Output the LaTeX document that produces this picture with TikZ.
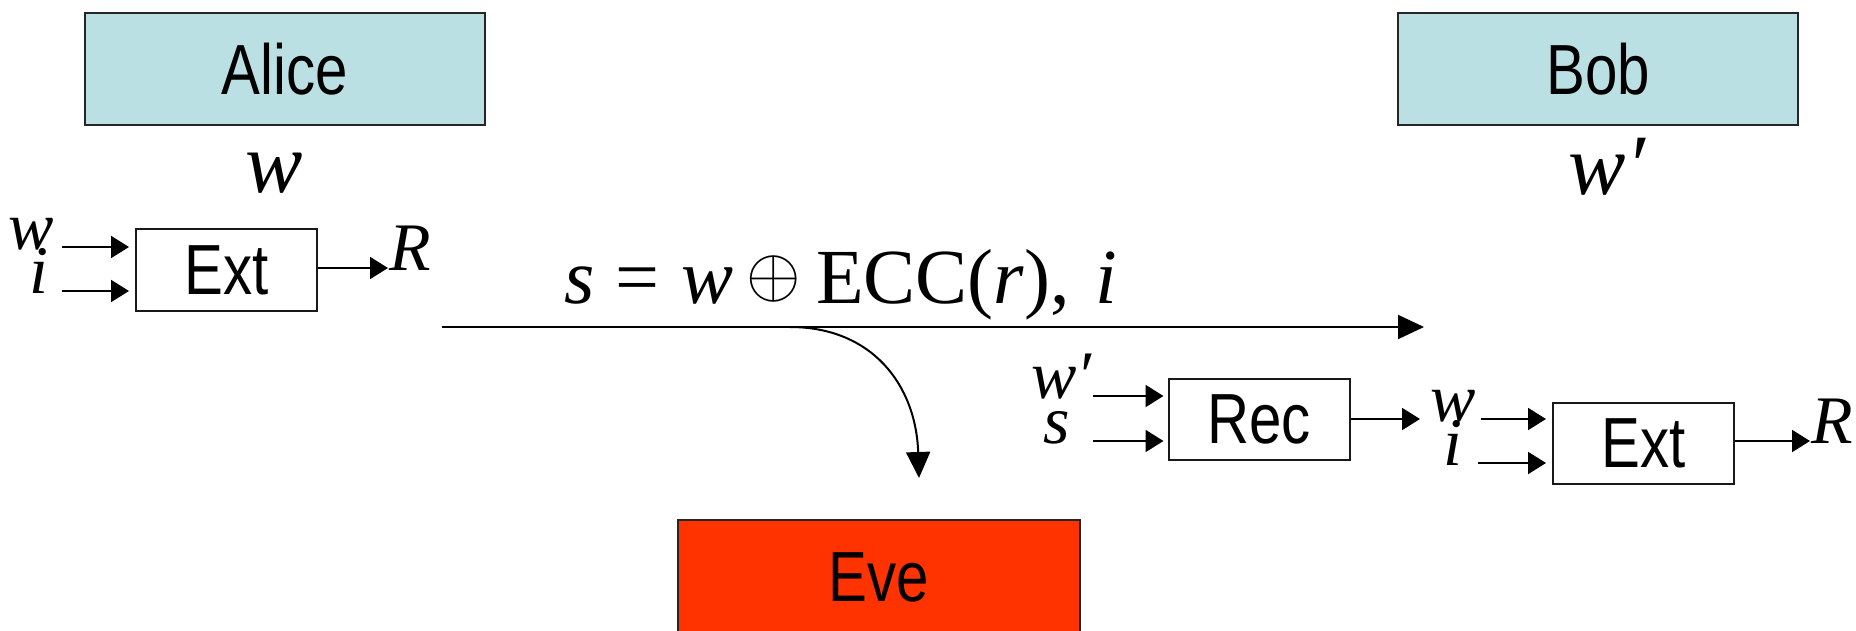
\documentclass[tikz,border=0pt]{standalone}
\usepackage{graphicx}
\usepackage{fontspec}
\setmainfont{Liberation Serif}
\newfontfamily\boxfont[FakeStretch=0.82]{Liberation Sans}
\usetikzlibrary{arrows.meta}
\definecolor{alicefill}{HTML}{BBE0E3}
\definecolor{evefill}{HTML}{FF3300}
\newcommand{\myoplus}{{\fontsize{10}{12}\selectfont\raisebox{6pt}{\scalebox{7}{$\oplus$}}}}
\begin{document}
\begin{tikzpicture}[x=1pt,y=-1pt,
  party/.style={draw=black!85, line width=2pt, fill=#1, minimum width=400pt, minimum height=112pt, inner sep=0pt, font=\boxfont\fontsize{71}{80}\selectfont},
  fbox/.style={draw=black!90, line width=2pt, minimum width=181pt, minimum height=81pt, inner sep=0pt, font=\boxfont\fontsize{71}{80}\selectfont},
  lab/.style={inner sep=0pt, text height=0.47em, text depth=0.02em, font=\fontsize{68}{72}\selectfont\itshape},
  bigw/.style={inner sep=0pt, font=\fontsize{86}{90}\selectfont\itshape},
  sarr/.style={line width=2pt, -{Triangle[length=18pt,width=22pt]}},
  barr/.style={line width=2pt, -{Triangle[length=26pt,width=24pt]}},
]
\useasboundingbox (0,0) rectangle (1856,631);

% parties
\node[party=alicefill] (alice) at (285,69) {Alice};
\node[party=alicefill] (bob) at (1598,69.5) {Bob};
\node[party=evefill, minimum width=402pt, minimum height=114pt] (eve) at (879,577) {Eve};

\node[bigw, anchor=base] (wa) at (274,193) {w};
\node[bigw, anchor=base] (wb) at (1607,195) {w′};

% Alice's extractor
\node[fbox] (ext1) at (226.5,270) {Ext};
\node[lab, anchor=mid east] (w1) at (54,247) {w};
\node[lab, anchor=mid east] (i1) at (49,291) {i};
\node[lab, anchor=west] (R1) at (389,268) {R};
\draw[sarr, shorten <=8pt, shorten >=6pt] (w1.mid east) -- (ext1.west |- w1.mid east);
\draw[sarr, shorten <=13pt, shorten >=6pt] (i1.mid east) -- (ext1.west |- i1.mid east);
\draw[sarr, shorten >=1pt] (ext1.east |- R1.west) -- (R1.west);

% message
\node[anchor=base west, inner sep=0pt, font=\fontsize{78}{84}\selectfont] (msg) at (564,303)
  {\makebox[40pt][l]{\textit{s}}\makebox[66pt][c]{=}\makebox[74pt][c]{\textit{w}}\makebox[60pt][c]{\myoplus}\hspace{12pt}ECC(\textit{r}),\hspace{26pt}\textit{i}};
\coordinate (ms) at (442,327);
\coordinate (me) at (1424,327);
\coordinate (bs) at (790,327);
\coordinate (bt) at (919,478);
\draw[barr] (ms) -- (me);
\draw[barr] (bs) .. controls (872,327) and (916,385) .. (bt);

% Bob's recovery
\node[fbox] (rec) at (1259,419.5) {Rec};
\node[lab, anchor=mid east] (wp) at (1092,396) {w′};
\node[lab, anchor=mid east] (s2) at (1070,441) {s};
\draw[sarr, shorten <=1pt, shorten >=4pt] (wp.mid east) -- (rec.west |- wp.mid east);
\draw[sarr, shorten <=23pt, shorten >=4pt] (s2.mid east) -- (rec.west |- s2.mid east);

\node[fbox] (ext2) at (1643.5,443) {Ext};
\node[lab, anchor=mid west] (w2) at (1430,419) {w};
\node[lab, anchor=mid east] (i2) at (1463,463) {i};
\node[lab, anchor=west] (R2) at (1811,441) {R};
\draw[sarr, shorten >=10pt] (rec.east |- w2.mid west) -- (w2.mid west);
\draw[sarr, shorten <=5pt, shorten >=6pt] (w2.mid east) -- (ext2.west |- w2.mid east);
\draw[sarr, shorten <=15pt, shorten >=6pt] (i2.mid east) -- (ext2.west |- i2.mid east);
\draw[sarr, shorten >=1pt] (ext2.east |- R2.west) -- (R2.west);
\end{tikzpicture}
\end{document}
